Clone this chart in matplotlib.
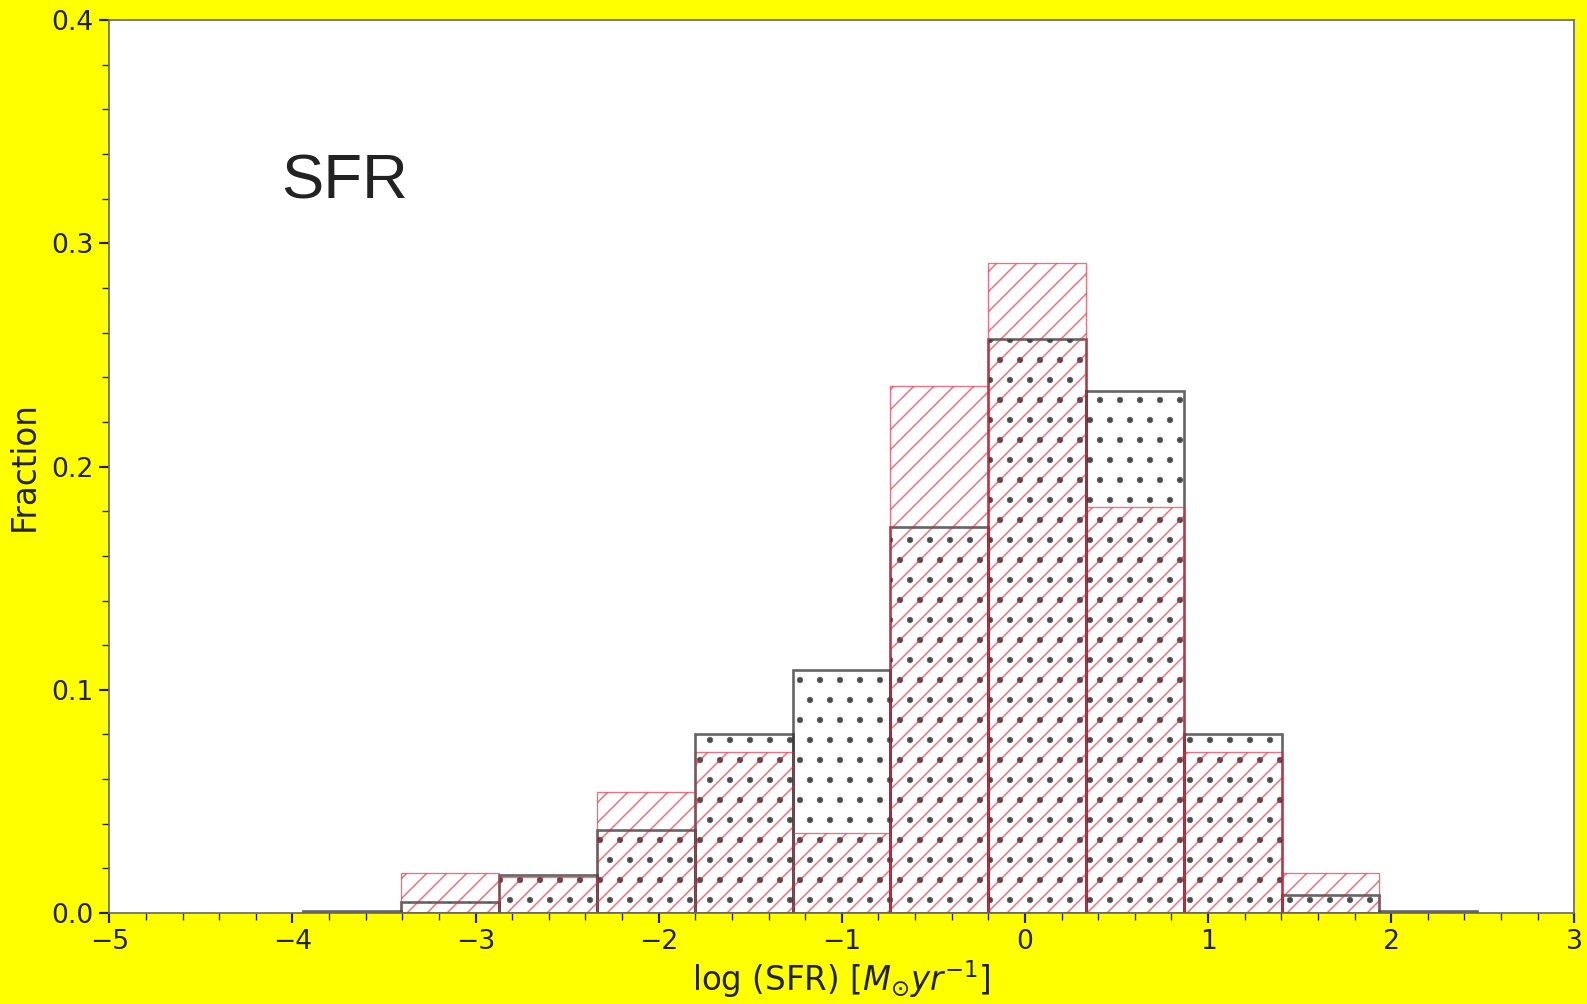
import numpy as np
import matplotlib
matplotlib.use("Agg")
import matplotlib.pyplot as plt
from matplotlib.ticker import MultipleLocator

# bin edges of log(SFR) histogram
bin_lo = -3.94
bin_hi = 2.47
n_bins = 12

# fractions per bin
frac_black = [0.001, 0.005, 0.017, 0.037, 0.080, 0.109, 0.173, 0.257, 0.234, 0.080, 0.008, 0.001]
frac_red = [0.0, 0.018, 0.016, 0.054, 0.072, 0.036, 0.236, 0.291, 0.182, 0.072, 0.018, 0.0]

edges = np.linspace(bin_lo, bin_hi, n_bins + 1)
width = edges[1] - edges[0]

fig = plt.figure(figsize=(1587 / 120, 1004 / 120), dpi=120, facecolor="#ffff00")
ax = fig.add_axes([0.0689, 0.0906, 0.9231, 0.8894])

# hatch linewidth is picked up when the patch is made
plt.rcParams["hatch.linewidth"] = 1.4
ax.bar(edges[:-1], frac_black, width=width, align="edge", fill=False,
       edgecolor=(0.2, 0.2, 0.2, 0.75), linewidth=1.6, hatch=".")
plt.rcParams["hatch.linewidth"] = 0.9
ax.bar(edges[:-1], frac_red, width=width, align="edge", fill=False,
       edgecolor=(0.88, 0.15, 0.25, 0.65), linewidth=0.8, hatch="//")

ax.set_xlim(-5, 3)
ax.set_ylim(0, 0.4)
ax.xaxis.set_major_locator(MultipleLocator(1))
ax.xaxis.set_minor_locator(MultipleLocator(0.2))
ax.yaxis.set_major_locator(MultipleLocator(0.1))
ax.yaxis.set_minor_locator(MultipleLocator(0.02))
ax.tick_params(which="major", direction="out", length=6, width=1.3, labelsize=16, colors="#222222")
ax.tick_params(which="minor", direction="out", length=4, width=0.8, colors="#222222")
for s in ax.spines.values():
    s.set_color("#666666")
    s.set_linewidth(1.0)

ax.set_xlabel(r"log (SFR) [$M_{\odot} yr^{-1}$]", fontsize=19.5, color="#222222", labelpad=2)
ax.set_ylabel("Fraction", fontsize=19.5, color="#222222", labelpad=6)
ax.text(0.1175, 0.80, "SFR", transform=ax.transAxes, fontsize=38, va="baseline",
        family="Liberation Sans", color="#222222")

fig.savefig("out.png", dpi=120, facecolor=fig.get_facecolor())
